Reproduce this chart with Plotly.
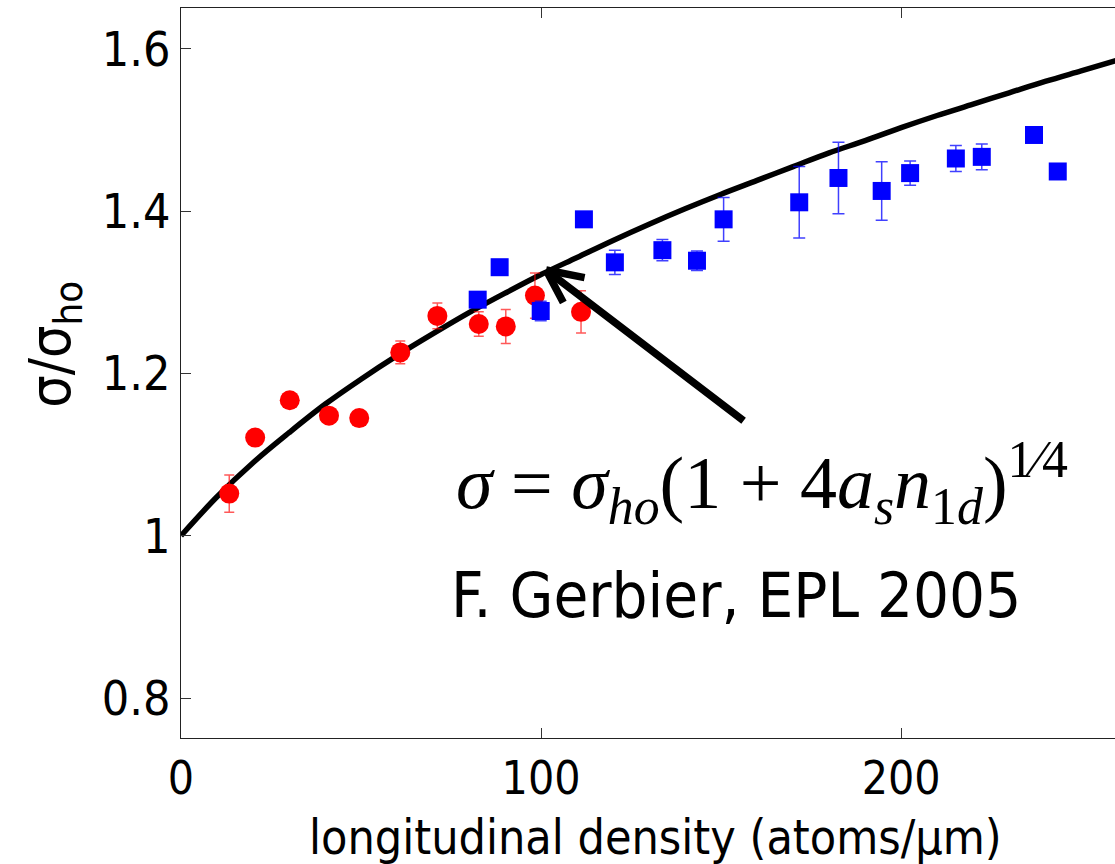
import plotly.graph_objects as go

# Theory curve sigma/sigma_ho
curve_x = [0, 10, 20, 30, 40, 50, 60, 70, 80, 90, 100, 110, 120, 130, 140, 150,
           160, 170, 180, 190, 200, 210, 220, 230, 240, 250, 260]
curve_y = [1.000, 1.048, 1.090, 1.127, 1.162, 1.193, 1.222, 1.249, 1.275, 1.299,
           1.322, 1.343, 1.364, 1.384, 1.403, 1.421, 1.438, 1.455, 1.472, 1.487,
           1.503, 1.518, 1.532, 1.546, 1.560, 1.573, 1.586]

# Red circles
red_x = [13.4, 20.6, 30.2, 41.1, 49.5, 60.9, 71.2, 82.7, 90.2, 98.3, 111.1]
red_y = [1.052, 1.121, 1.167, 1.148, 1.145, 1.226, 1.271, 1.261, 1.258, 1.296, 1.276]
red_err = [0.023, 0.008, 0.006, 0.006, 0.006, 0.014, 0.016, 0.015, 0.021, 0.028, 0.026]

# Blue squares
blue_x = [82.4, 88.5, 99.9, 111.9, 120.5, 133.7, 143.3, 150.7, 171.7, 182.6,
          194.6, 202.5, 215.2, 222.4, 236.9, 243.5]
blue_y = [1.291, 1.331, 1.277, 1.390, 1.337, 1.352, 1.339, 1.390, 1.411, 1.441,
          1.425, 1.447, 1.465, 1.467, 1.494, 1.449]
blue_err = [0.008, 0.006, 0.012, 0.006, 0.015, 0.013, 0.012, 0.027, 0.044, 0.044,
            0.036, 0.015, 0.016, 0.016, 0.006, 0.006]

x_ticks = [0, 100, 200]
y_ticks = [0.8, 1.0, 1.2, 1.4, 1.6]
y_tick_text = ["0.8", "1", "1.2", "1.4", "1.6"]

SANS = "DejaVu Sans Condensed, DejaVu Sans, sans-serif"

fig = go.Figure()
fig.add_trace(go.Scatter(x=curve_x, y=curve_y, mode="lines",
                         line=dict(color="black", width=5.5, shape="spline"),
                         showlegend=False, hoverinfo="skip"))
fig.add_trace(go.Scatter(x=red_x, y=red_y, mode="markers",
                         marker=dict(symbol="circle", size=20, color="#ff0000"),
                         error_y=dict(type="data", array=red_err, visible=True,
                                      color="rgba(255,0,0,0.65)", thickness=1.5, width=5),
                         showlegend=False))
fig.add_trace(go.Scatter(x=blue_x, y=blue_y, mode="markers",
                         marker=dict(symbol="square", size=18, color="#0000ff"),
                         error_y=dict(type="data", array=blue_err, visible=True,
                                      color="rgba(0,0,255,0.75)", thickness=1.5, width=6),
                         showlegend=False))

# Arrow pointing at the curve
head_x, head_y = 101.4, 1.3276
for ax, ay in [(199, 152), (18, 34), (40, 8)]:
    fig.add_annotation(x=head_x, y=head_y, ax=ax, ay=ay, text="", showarrow=True,
                       arrowhead=0, arrowwidth=7.5, arrowcolor="black", standoff=0,
                       startstandoff=0)

fig.add_annotation(
    x=0.622, y=0.35, xref="paper", yref="paper", showarrow=False,
    xanchor="center", yanchor="middle",
    text="<i>σ</i> = <i>σ</i><sub><i>ho</i></sub>(1 + 4<i>a</i><sub><i>s</i></sub><i>n</i><sub>1<i>d</i></sub>)<sup>1⁄4</sup>",
    font=dict(family="Liberation Serif, serif", size=74, color="black"))
fig.add_annotation(
    x=0.594, y=0.195, xref="paper", yref="paper", showarrow=False,
    xanchor="center", yanchor="middle",
    text="F. Gerbier, EPL 2005",
    font=dict(family=SANS, size=63, color="black"))

# axis labels
fig.add_annotation(
    x=-0.136, y=0.54, xref="paper", yref="paper", showarrow=False,
    xanchor="center", yanchor="middle", textangle=-90,
    text="σ/σ<sub>ho</sub>", font=dict(family=SANS, size=57, color="black"))
fig.add_annotation(
    x=0.5075, y=-0.136, xref="paper", yref="paper", showarrow=False,
    xanchor="center", yanchor="middle",
    text="longitudinal density (atoms/μm)", font=dict(family=SANS, size=48, color="black"))

fig.update_layout(
    width=1115, height=864,
    margin=dict(l=181, r=0, t=8, b=126),
    paper_bgcolor="white", plot_bgcolor="white",
    font=dict(family=SANS, color="black"),
    xaxis=dict(range=[0, 259.4], tickvals=x_ticks, ticks="inside", ticklen=10,
               tickcolor="#333", showline=True, linecolor="#222", linewidth=1,
               mirror="ticks", showgrid=False, zeroline=False,
               tickfont=dict(size=46, family=SANS)),
    yaxis=dict(range=[0.7507, 1.6505], tickvals=y_ticks, ticktext=y_tick_text,
               ticks="inside", ticklen=10, tickcolor="#333",
               showline=True, linecolor="#222", linewidth=1, mirror=False,
               showgrid=False, zeroline=False,
               tickfont=dict(size=48, family=SANS)),
)

fig.write_html("out.html")
